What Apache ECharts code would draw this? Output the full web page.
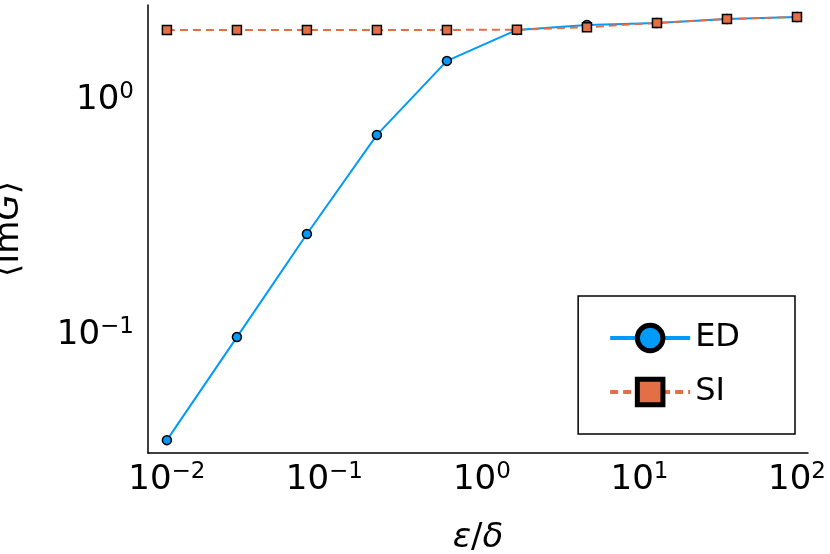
<!DOCTYPE html>
<html><head><meta charset="utf-8">
<script src="https://cdn.jsdelivr.net/npm/echarts@6/dist/echarts.min.js"></script>
<style>html,body{margin:0;padding:0;background:#fff}#c{width:830px;height:554px}</style>
</head><body><div id="c"></div>
<script>
const xs = [0.01, 0.02783, 0.07743, 0.2154, 0.5995, 1.668, 4.642, 12.92, 35.94, 100];
const ed = [0.0357, 0.098, 0.269, 0.71, 1.466, 1.986, 2.085, 2.127, 2.21, 2.255];
const si = [1.986, 1.986, 1.986, 1.986, 1.986, 1.99, 2.04, 2.127, 2.21, 2.255];
const L = Math.log10;
const toPts = ys => xs.map((x, i) => [L(x), L(ys[i])]);
const fmt = v => Math.abs(v - Math.round(v)) < 1e-6 ? '{b|10}{s|' + (Math.round(v) < 0 ? '−' + (-Math.round(v)) : Math.round(v)) + '}' : '';
const rich = { b: { fontSize: 34, fontFamily: 'DejaVu Sans', color: '#000' },
  s: { fontSize: 23, verticalAlign: 'top', padding: [0, 0, 16, 0], fontFamily: 'DejaVu Sans', color: '#000' } };
const chart = echarts.init(document.getElementById('c'));
chart.setOption({
  animation: false,
  grid: { left: 148, right: 22, top: 5, bottom: 101, outerBoundsMode: 'none', containLabel: false },
  xAxis: { type: 'value', min: -2.12, max: 2.07, interval: 0.01, splitLine: { show: false },
    axisLine: { onZero: false, lineStyle: { color: '#000', width: 1.5 } }, axisTick: { show: false },
    axisLabel: { formatter: fmt, rich, color: '#000', fontSize: 34, fontFamily: 'DejaVu Sans', margin: 8, showMinLabel: false, showMaxLabel: false, interval: 0 },
    name: '{i|ε}/{i|δ}', nameLocation: 'middle', nameGap: 68,
    nameTextStyle: { fontSize: 34, fontFamily: 'DejaVu Sans', color: '#000', rich: { i: { fontStyle: 'italic', fontSize: 34, fontFamily: 'DejaVu Sans' } } } },
  yAxis: { type: 'value', min: -1.502, max: 0.404, interval: 0.001, splitLine: { show: false },
    axisLine: { show: true, onZero: false, lineStyle: { color: '#000', width: 1.5 } }, axisTick: { show: false },
    axisLabel: { formatter: fmt, rich, color: '#000', fontSize: 34, fontFamily: 'DejaVu Sans', margin: 14, showMinLabel: false, showMaxLabel: false, interval: 0 },
    name: '⟨Im{i|G}⟩', nameLocation: 'middle', nameGap: 122, nameRotate: 90,
    nameTextStyle: { fontSize: 34, fontFamily: 'DejaVu Sans', color: '#000', rich: { i: { fontStyle: 'italic', fontSize: 34, fontFamily: 'DejaVu Sans' } } } },
  legend: { right: 35, bottom: 120, orient: 'vertical', borderColor: '#000', borderWidth: 1.5,
    padding: [26, 55, 26, 30], itemWidth: 80, itemHeight: 32, itemGap: 22,
    textStyle: { fontSize: 32, fontFamily: 'DejaVu Sans', color: '#000' },
    data: [{ name: 'ED', itemStyle: { borderWidth: 5, borderColor: '#000' }, lineStyle: { width: 4 } },
           { name: 'SI', itemStyle: { borderWidth: 5, borderColor: '#000' }, lineStyle: { width: 4 } }] },
  series: [
    { name: 'ED', type: 'line', data: toPts(ed), symbol: 'circle', symbolSize: 9,
      lineStyle: { color: '#009AFA', width: 2 }, itemStyle: { color: '#009AFA', borderColor: '#000', borderWidth: 1.5 } },
    { name: 'SI', type: 'line', data: toPts(si), symbol: 'rect', symbolSize: 9,
      lineStyle: { color: '#E26F46', width: 2, type: [8, 5] }, itemStyle: { color: '#E26F46', borderColor: '#000', borderWidth: 1.5 } }
  ]
});
</script></body></html>
